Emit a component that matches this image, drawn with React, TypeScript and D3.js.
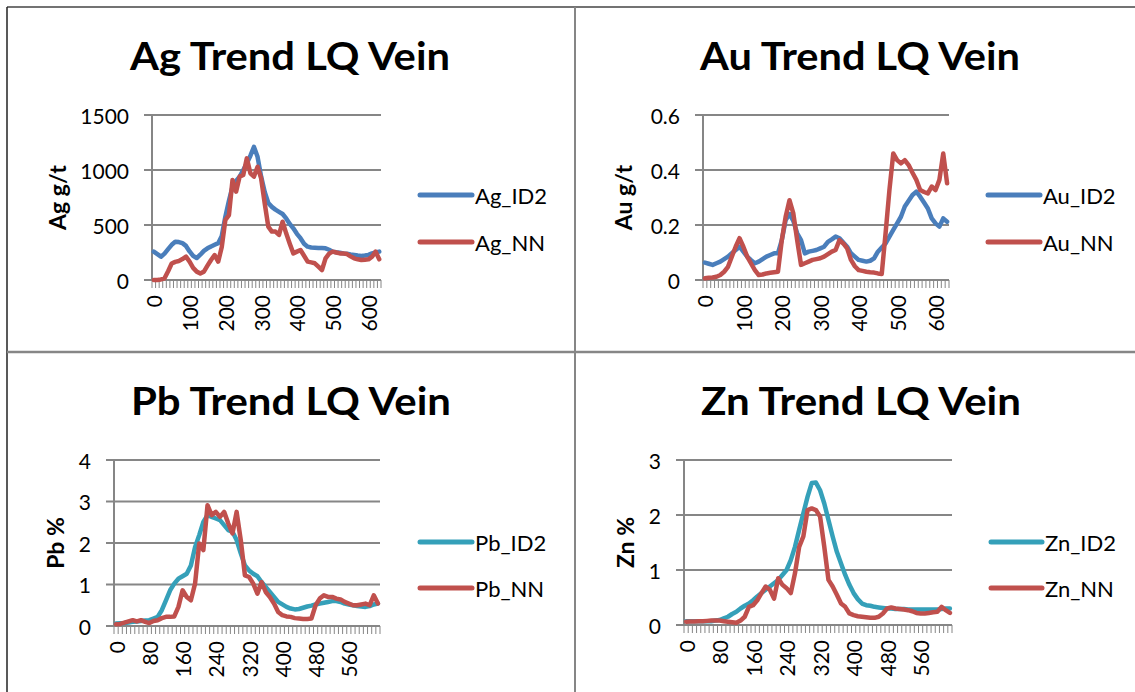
import * as d3 from "d3";

// distance along the vein, every 10 m
const depths = d3.range(0, 640, 10);

const agId2 = [258, 235, 212, 240, 280, 320, 348, 345, 335, 310, 260, 220, 200, 230, 265, 288, 305, 320, 335, 400, 575, 720, 850, 900, 940, 1000, 1060, 1130, 1210, 1120, 940, 800, 700, 665, 640, 620, 600, 560, 510, 470, 420, 380, 330, 303, 296, 294, 292, 290, 288, 275, 258, 252, 248, 242, 238, 232, 227, 222, 218, 222, 228, 242, 250, 258];
const agNn = [0, 0, 5, 15, 80, 150, 165, 173, 190, 212, 167, 110, 76, 60, 76, 130, 182, 227, 167, 300, 545, 590, 909, 803, 940, 955, 1106, 970, 940, 1030, 924, 697, 485, 440, 440, 410, 530, 424, 330, 242, 258, 273, 220, 167, 160, 152, 121, 91, 197, 240, 258, 250, 242, 240, 236, 215, 197, 188, 182, 185, 188, 212, 258, 188];

const auId2 = [0.063, 0.059, 0.055, 0.061, 0.067, 0.076, 0.085, 0.097, 0.109, 0.121, 0.103, 0.085, 0.072, 0.061, 0.067, 0.076, 0.085, 0.091, 0.097, 0.097, 0.145, 0.218, 0.24, 0.215, 0.17, 0.145, 0.097, 0.103, 0.106, 0.109, 0.115, 0.121, 0.139, 0.148, 0.158, 0.152, 0.136, 0.121, 0.097, 0.085, 0.073, 0.07, 0.067, 0.07, 0.079, 0.103, 0.118, 0.133, 0.158, 0.182, 0.206, 0.23, 0.267, 0.288, 0.309, 0.321, 0.303, 0.282, 0.26, 0.224, 0.206, 0.194, 0.224, 0.212];
const auNn = [0.006, 0.008, 0.009, 0.012, 0.018, 0.03, 0.048, 0.085, 0.121, 0.152, 0.121, 0.085, 0.06, 0.036, 0.018, 0.02, 0.024, 0.026, 0.028, 0.03, 0.145, 0.23, 0.29, 0.242, 0.145, 0.055, 0.061, 0.067, 0.073, 0.076, 0.079, 0.085, 0.094, 0.103, 0.109, 0.145, 0.133, 0.115, 0.073, 0.05, 0.036, 0.033, 0.03, 0.028, 0.027, 0.024, 0.022, 0.17, 0.327, 0.46, 0.436, 0.424, 0.436, 0.418, 0.39, 0.364, 0.327, 0.32, 0.315, 0.34, 0.327, 0.364, 0.46, 0.352];

const pbId2 = [0.06, 0.065, 0.07, 0.085, 0.1, 0.11, 0.12, 0.13, 0.14, 0.18, 0.22, 0.38, 0.62, 0.86, 1.02, 1.14, 1.2, 1.26, 1.46, 1.9, 2.19, 2.51, 2.67, 2.63, 2.59, 2.55, 2.43, 2.31, 2.27, 2.07, 1.75, 1.46, 1.34, 1.26, 1.2, 1.06, 0.94, 0.82, 0.7, 0.58, 0.52, 0.46, 0.42, 0.4, 0.41, 0.44, 0.47, 0.49, 0.52, 0.54, 0.56, 0.58, 0.6, 0.6, 0.58, 0.54, 0.52, 0.5, 0.48, 0.47, 0.46, 0.48, 0.52, 0.54];
const pbNn = [0.04, 0.05, 0.08, 0.11, 0.14, 0.11, 0.14, 0.1, 0.07, 0.12, 0.14, 0.19, 0.22, 0.22, 0.23, 0.46, 0.86, 0.7, 0.62, 1.02, 1.99, 1.83, 2.91, 2.67, 2.75, 2.63, 2.75, 2.47, 2.23, 2.75, 2.07, 1.22, 1.18, 1.02, 0.78, 1.06, 0.82, 0.7, 0.54, 0.34, 0.26, 0.23, 0.22, 0.19, 0.18, 0.17, 0.17, 0.18, 0.5, 0.66, 0.74, 0.7, 0.7, 0.66, 0.64, 0.58, 0.54, 0.5, 0.5, 0.52, 0.54, 0.5, 0.74, 0.54];

const znId2 = [0.07, 0.07, 0.07, 0.07, 0.07, 0.07, 0.07, 0.08, 0.09, 0.12, 0.15, 0.2, 0.24, 0.3, 0.35, 0.39, 0.45, 0.52, 0.58, 0.64, 0.7, 0.76, 0.82, 0.91, 1.0, 1.18, 1.42, 1.73, 2.03, 2.33, 2.58, 2.59, 2.45, 2.21, 1.91, 1.61, 1.33, 1.12, 0.91, 0.73, 0.58, 0.47, 0.39, 0.36, 0.35, 0.33, 0.32, 0.31, 0.3, 0.3, 0.29, 0.29, 0.29, 0.28, 0.28, 0.28, 0.28, 0.28, 0.28, 0.28, 0.28, 0.29, 0.3, 0.3];
const znNn = [0.06, 0.065, 0.065, 0.07, 0.07, 0.075, 0.08, 0.08, 0.08, 0.07, 0.06, 0.05, 0.04, 0.08, 0.15, 0.33, 0.36, 0.45, 0.58, 0.7, 0.64, 0.48, 0.85, 0.73, 0.67, 0.58, 0.94, 1.42, 1.61, 2.09, 2.12, 2.09, 1.97, 1.42, 0.82, 0.7, 0.55, 0.39, 0.33, 0.21, 0.18, 0.16, 0.15, 0.14, 0.13, 0.13, 0.15, 0.21, 0.3, 0.32, 0.3, 0.29, 0.28, 0.27, 0.25, 0.22, 0.21, 0.21, 0.22, 0.23, 0.24, 0.33, 0.27, 0.22];

const agTicks = [0, 500, 1000, 1500];
const auTicks = [0, 0.2, 0.4, 0.6];
const pbTicks = [0, 1, 2, 3, 4];
const znTicks = [0, 1, 2, 3];

const BLUE = "#4a7ebb";
const RED = "#c0504d";
const TEAL = "#35a0b9";
const GRID = "#868686";
const FONT = "Lato, 'Open Sans', sans-serif";

type PanelProps = {
  title: string;
  yTitle: string;
  names: [string, string];
  series: [number[], number[]];
  colors: [string, string];
  ticks: number[];
  labelEvery: number;
  plot: { x0: number; x1: number; y0: number; y1: number };
  titleX: number;
  titleY: number;
  yTitleX: number;
  legend: { x0: number; x1: number; y: [number, number] };
};

function Panel(p: PanelProps) {
  const { x0, x1, y0, y1 } = p.plot;
  const x = d3.scaleBand<number>().domain(depths).range([x0, x1]).padding(0);
  const bw = x.bandwidth();
  const y = d3
    .scaleLinear()
    .domain([0, d3.max(p.ticks) as number])
    .range([y1, y0]);
  const line = d3
    .line<number>()
    .x((_, i) => (x(depths[i]) as number) + bw / 2)
    .y((d) => y(d));
  const boundaries = depths.map((d) => x(d) as number).concat([x1]);
  const labelled = depths.filter((_, i) => i % p.labelEvery === 0);
  const yMid = (y0 + y1) / 2;

  return (
    <g>
      <text
        x={p.titleX}
        y={p.titleY}
        textAnchor="middle"
        fontFamily={FONT}
        fontWeight="bold"
        fontSize={39}
        textLength={320}
        lengthAdjust="spacingAndGlyphs"
        fill="#000"
      >
        {p.title}
      </text>
      {p.ticks.map((t) => (
        <g key={t}>
          <line x1={x0 - 8} x2={x1} y1={y(t)} y2={y(t)} stroke={GRID} strokeWidth={2} />
          <text
            x={x0 - 23}
            y={y(t)}
            textAnchor="end"
            dominantBaseline="central"
            fontFamily={FONT}
            fontSize={21}
            fill="#000"
          >
            {t}
          </text>
        </g>
      ))}
      <line x1={x0} x2={x0} y1={y0} y2={y1} stroke={GRID} strokeWidth={2} />
      {boundaries.map((b, i) => (
        <line key={i} x1={b} x2={b} y1={y1} y2={y1 + 8} stroke={GRID} strokeWidth={1} />
      ))}
      {labelled.map((d) => (
        <text
          key={d}
          transform={`translate(${(x(d) as number) + bw / 2},${y1 + 15}) rotate(-90)`}
          textAnchor="end"
          dominantBaseline="central"
          fontFamily={FONT}
          fontSize={21}
          fill="#000"
        >
          {d}
        </text>
      ))}
      <text
        transform={`translate(${p.yTitleX},${yMid}) rotate(-90)`}
        textAnchor="middle"
        dominantBaseline="central"
        fontFamily={FONT}
        fontWeight="bold"
        fontSize={23}
        fill="#000"
      >
        {p.yTitle}
      </text>
      {p.series.map((s, k) => (
        <path
          key={k}
          d={line(s) as string}
          fill="none"
          stroke={p.colors[k]}
          strokeWidth={4.5}
          strokeLinejoin="round"
          strokeLinecap="round"
        />
      ))}
      {p.names.map((n, k) => (
        <g key={n}>
          <line
            x1={p.legend.x0}
            x2={p.legend.x1}
            y1={p.legend.y[k]}
            y2={p.legend.y[k]}
            stroke={p.colors[k]}
            strokeWidth={5}
            strokeLinecap="round"
          />
          <text
            x={p.legend.x1 + 3}
            y={p.legend.y[k]}
            dominantBaseline="central"
            fontFamily={FONT}
            fontSize={22}
            fill="#000"
          >
            {n}
          </text>
        </g>
      ))}
    </g>
  );
}

export default function App() {
  return (
    <svg
      width={1135}
      height={692}
      style={{ position: "absolute", left: 0, top: 0, background: "#fff" }}
    >
      <rect x={0} y={0} width={1135} height={692} fill="#fff" />
      <line x1={7} x2={1135} y1={7} y2={7} stroke="#444" strokeWidth={1.5} />
      <line x1={7} x2={7} y1={7} y2={692} stroke="#222" strokeWidth={1.5} />
      <line x1={575} x2={575} y1={7} y2={692} stroke={GRID} strokeWidth={2} />
      <line x1={7} x2={1135} y1={352} y2={352} stroke={GRID} strokeWidth={2.5} />

      <Panel
        title="Ag Trend LQ Vein"
        yTitle="Ag g/t"
        names={["Ag_ID2", "Ag_NN"]}
        series={[agId2, agNn]}
        colors={[BLUE, RED]}
        ticks={agTicks}
        labelEvery={10}
        plot={{ x0: 152, x1: 381, y0: 115, y1: 280 }}
        titleX={290}
        titleY={70}
        yTitleX={57}
        legend={{ x0: 420, x1: 472, y: [195, 242] }}
      />
      <Panel
        title="Au Trend LQ Vein"
        yTitle="Au g/t"
        names={["Au_ID2", "Au_NN"]}
        series={[auId2, auNn]}
        colors={[BLUE, RED]}
        ticks={auTicks}
        labelEvery={10}
        plot={{ x0: 703, x1: 949, y0: 115, y1: 280 }}
        titleX={860}
        titleY={70}
        yTitleX={623}
        legend={{ x0: 988, x1: 1040, y: [195, 242] }}
      />
      <Panel
        title="Pb Trend LQ Vein"
        yTitle="Pb %"
        names={["Pb_ID2", "Pb_NN"]}
        series={[pbId2, pbNn]}
        colors={[TEAL, RED]}
        ticks={pbTicks}
        labelEvery={8}
        plot={{ x0: 114, x1: 380, y0: 460, y1: 626 }}
        titleX={291}
        titleY={415}
        yTitleX={55}
        legend={{ x0: 420, x1: 472, y: [542, 588] }}
      />
      <Panel
        title="Zn Trend LQ Vein"
        yTitle="Zn %"
        names={["Zn_ID2", "Zn_NN"]}
        series={[znId2, znNn]}
        colors={[TEAL, RED]}
        ticks={znTicks}
        labelEvery={8}
        plot={{ x0: 684, x1: 952, y0: 460, y1: 625 }}
        titleX={861}
        titleY={415}
        yTitleX={625}
        legend={{ x0: 991, x1: 1042, y: [542, 588] }}
      />
    </svg>
  );
}
